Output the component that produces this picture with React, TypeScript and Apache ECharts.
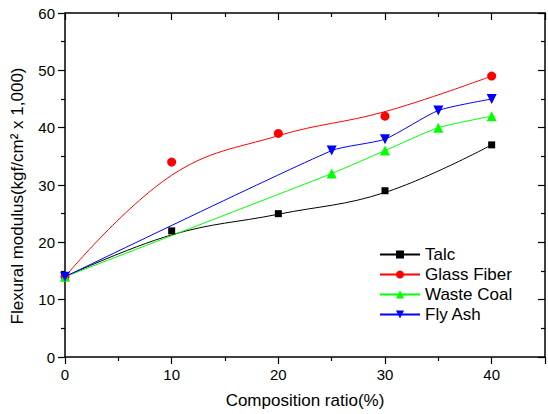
import { useEffect, useRef } from "react";
import * as echarts from "echarts";

// Measured flexural modulus (kgf/cm² x 1,000) against filler composition ratio (%)
const seriesNames = ["Talc", "Glass Fiber", "Waste Coal", "Fly Ash"];
const talcX = [0, 10, 20, 30, 40];
const talcY = [14, 22, 25, 29, 37];
const glassX = [0, 10, 20, 30, 40];
const glassY = [14, 34, 39, 42, 49];
const coalX = [0, 25, 30, 35, 40];
const coalY = [14, 32, 36, 40, 42];
const ashX = [0, 25, 30, 35, 40];
const ashY = [14, 36, 38, 43, 45];

// Trend-curve values for the fitted Talc and Glass Fiber lines
const talcFitY = [14, 21.3, 24.9, 28.7, 37];
const glassFitY = [14, 31.7, 38.6, 42.8, 49];

const colors = ["#000000", "#ff0000", "#00ff00", "#0000ff"];
const symbols = ["rect", "circle", "triangle", "triangle"];
const symbolRotates = [0, 0, 0, 180];
const symbolSizes = [7, 9, 10, 10];
const smoothness = [0.4, 0.4, 0.2, 0.2];

const FONT = "'Liberation Sans', Arial, Helvetica, sans-serif";

const pair = (xs: number[], ys: number[]) => xs.map((x, i) => [x, ys[i]]);

export default function App() {
  const ref = useRef<HTMLDivElement>(null);

  useEffect(() => {
    if (!ref.current) return;
    const chart = echarts.init(ref.current, undefined, { renderer: "svg" });

    const points = [
      pair(talcX, talcY),
      pair(glassX, glassY),
      pair(coalX, coalY),
      pair(ashX, ashY),
    ];
    const curves = [
      pair(talcX, talcFitY),
      pair(glassX, glassFitY),
      pair(coalX, coalY),
      pair(ashX, ashY),
    ];

    const axisLine = { show: true, onZero: false, lineStyle: { color: "#000", width: 1.5 } };
    const tick = (inside: boolean) => ({
      show: true,
      inside,
      length: 7,
      lineStyle: { color: "#000", width: 1.2 },
    });
    const minor = { show: true, splitNumber: 2, length: 4, lineStyle: { color: "#000", width: 1.2 } };

    const lineSeries = seriesNames.map((name, i) => ({
      name,
      type: "line",
      xAxisIndex: 0,
      yAxisIndex: 0,
      data: curves[i],
      smooth: smoothness[i],
      showSymbol: false,
      symbol: symbols[i],
      symbolRotate: symbolRotates[i],
      symbolSize: symbolSizes[i],
      itemStyle: { color: colors[i] },
      lineStyle: { color: colors[i], width: 1 },
      z: 2,
    }));

    const markerSeries = seriesNames.map((name, i) => ({
      name,
      type: "scatter",
      xAxisIndex: 0,
      yAxisIndex: 0,
      data: points[i],
      symbol: symbols[i],
      symbolRotate: symbolRotates[i],
      symbolSize: symbolSizes[i],
      itemStyle: { color: colors[i], opacity: 1 },
      z: 3,
    }));

    chart.setOption({
      animation: false,
      backgroundColor: "#ffffff",
      textStyle: { fontFamily: FONT },
      grid: { left: 65, top: 13, width: 485, height: 344 },
      legend: {
        orient: "vertical",
        left: 374,
        top: 241,
        itemWidth: 40,
        itemHeight: 10,
        itemGap: 3,
        data: seriesNames,
        textStyle: { fontFamily: FONT, fontSize: 17, color: "#000" },
        selectedMode: false,
      },
      xAxis: [
        {
          type: "value",
          position: "bottom",
          min: 0,
          max: 45,
          interval: 10,
          name: "Composition ratio(%)",
          nameLocation: "middle",
          nameGap: 35,
          nameTextStyle: { fontFamily: FONT, fontSize: 17, color: "#000" },
          axisLine,
          axisTick: tick(false),
          minorTick: minor,
          axisLabel: {
            fontFamily: FONT,
            fontSize: 15,
            color: "#000",
            margin: 10,
            formatter: (v: number) => (v > 40 ? "" : String(v)),
          },
          splitLine: { show: false },
        },
        {
          type: "value",
          position: "top",
          min: 0,
          max: 45,
          interval: 10,
          axisLine,
          axisTick: tick(true),
          minorTick: minor,
          axisLabel: { show: false },
          splitLine: { show: false },
        },
      ],
      yAxis: [
        {
          type: "value",
          position: "left",
          min: 0,
          max: 60,
          interval: 10,
          name: "Flexural modulus(kgf/cm² x 1,000)",
          nameLocation: "middle",
          nameGap: 39,
          nameTextStyle: { fontFamily: FONT, fontSize: 17, color: "#000", padding: [0, 22, 0, 0] },
          axisLine,
          axisTick: tick(false),
          minorTick: minor,
          axisLabel: { fontFamily: FONT, fontSize: 15, color: "#000", margin: 10 },
          splitLine: { show: false },
        },
        {
          type: "value",
          position: "right",
          min: 0,
          max: 60,
          interval: 10,
          axisLine,
          axisTick: tick(true),
          minorTick: minor,
          axisLabel: { show: false },
          splitLine: { show: false },
        },
      ],
      series: [...lineSeries, ...markerSeries],
    });

    return () => chart.dispose();
  }, []);

  return (
    <div
      ref={ref}
      style={{ position: "absolute", left: 0, top: 0, width: 548, height: 414 }}
    />
  );
}
